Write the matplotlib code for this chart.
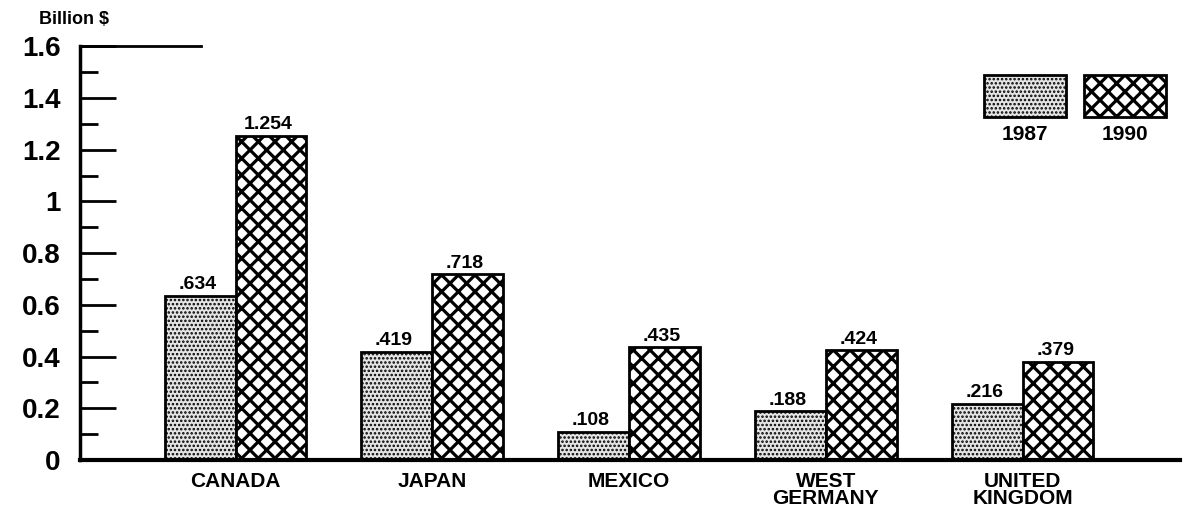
import numpy as np
import matplotlib
matplotlib.use('Agg')
import matplotlib.pyplot as plt
from matplotlib.patches import Rectangle
from matplotlib.ticker import MultipleLocator, FuncFormatter

# data
countries = ['CANADA', 'JAPAN', 'MEXICO', 'WEST\nGERMANY', 'UNITED\nKINGDOM']
v1987 = [0.634, 0.419, 0.108, 0.188, 0.216]
v1990 = [1.254, 0.718, 0.435, 0.424, 0.379]
lab1987 = ['.634', '.419', '.108', '.188', '.216']
lab1990 = ['1.254', '.718', '.435', '.424', '.379']
years = ['1987', '1990']

plt.rcParams['font.family'] = ['Liberation Sans', 'DejaVu Sans']
plt.rcParams['font.weight'] = 'bold'

fig = plt.figure(figsize=(11.86, 5.19), dpi=100)
ax = fig.add_axes([0.0675, 0.1137, 0.9275, 0.7973])

x = np.arange(len(countries))
w = 0.36

plt.rcParams['hatch.linewidth'] = 1.2
b1 = ax.bar(x - w / 2, v1987, w, facecolor='#e4e4e4', edgecolor='black',
            hatch='....', linewidth=2)
plt.rcParams['hatch.linewidth'] = 2.3
b2 = ax.bar(x + w / 2, v1990, w, facecolor='white', edgecolor='black',
            hatch='xx', linewidth=2)

for bars, labs in ((b1, lab1987), (b2, lab1990)):
    for r, t in zip(bars, labs):
        ax.annotate(t, (r.get_x() + r.get_width() / 2, r.get_height()),
                    xytext=(-2, 2), textcoords='offset points',
                    ha='center', va='bottom', fontsize=14, fontweight='bold')

ax.set_xlim(-0.79, 4.8)
ax.set_ylim(0, 1.6)
ax.yaxis.set_major_locator(MultipleLocator(0.2))
ax.yaxis.set_minor_locator(MultipleLocator(0.1))
ax.yaxis.set_major_formatter(FuncFormatter(lambda v, p: '0' if v == 0 else ('%g' % v)))
ax.tick_params(axis='y', which='major', direction='in', length=26, width=2,
               labelsize=20, pad=14)
ax.tick_params(axis='y', which='minor', direction='in', length=13, width=2)
ax.set_xticks(x)
ax.set_xticklabels(countries, fontsize=15, fontweight='heavy', linespacing=0.85)
ax.tick_params(axis='x', length=0, pad=9)

for s in ['top', 'right']:
    ax.spines[s].set_visible(False)
ax.spines['left'].set_linewidth(2.5)
ax.spines['bottom'].set_linewidth(3)
ax.plot([0, 0.11], [1, 1], transform=ax.transAxes, color='black', lw=2, clip_on=False)

ax.text(-0.037, 1.045, 'Billion $', transform=ax.transAxes, fontsize=13,
        fontweight='bold', ha='left', va='bottom')

# legend drawn by hand
plt.rcParams['hatch.linewidth'] = 1.2
ax.add_patch(Rectangle((0.822, 0.83), 0.074, 0.1, transform=ax.transAxes,
                       facecolor='#e4e4e4', edgecolor='black', hatch='....', lw=2))
plt.rcParams['hatch.linewidth'] = 2.3
ax.add_patch(Rectangle((0.913, 0.83), 0.074, 0.1, transform=ax.transAxes,
                       facecolor='white', edgecolor='black', hatch='xx', lw=2))
ax.text(0.859, 0.81, years[0], transform=ax.transAxes, ha='center', va='top',
        fontsize=15, fontweight='bold')
ax.text(0.950, 0.81, years[1], transform=ax.transAxes, ha='center', va='top',
        fontsize=15, fontweight='bold')

fig.savefig('out.png', dpi=100)
